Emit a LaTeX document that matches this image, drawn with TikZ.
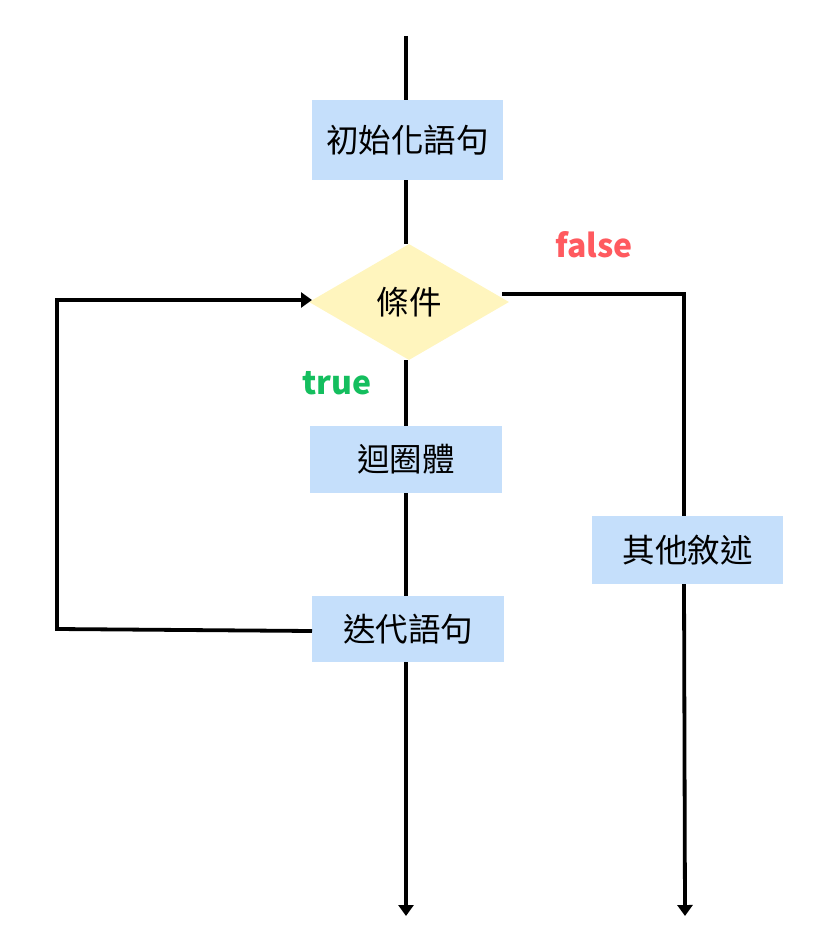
\documentclass[tikz,border=0pt]{standalone}
\usepackage{fontspec}
\newfontfamily\cjk{Noto Sans CJK TC}
\newfontfamily\lat{Noto Sans CJK TC}
\usetikzlibrary{shapes.geometric,arrows.meta}
\definecolor{boxblue}{HTML}{C5DFFB}
\definecolor{condyellow}{HTML}{FFF5BE}
\definecolor{falsered}{HTML}{FF5A5F}
\definecolor{truegreen}{HTML}{14BE5E}
\tikzset{
  stmt/.style={rectangle, fill=boxblue, inner sep=0pt, font=\cjk\fontsize{32.5}{32.5}\selectfont},
  cond/.style={diamond, fill=condyellow, inner sep=0pt, aspect=1.72, minimum width=200pt, minimum height=116pt, font=\cjk\fontsize{32.5}{32.5}\selectfont},
  flow/.style={line width=3.8pt},
  flowarrow/.style={line width=3.8pt, -{Triangle[width=15pt,length=11pt]}},
  lbl/.style={font=\lat\bfseries\fontsize{32}{32}\selectfont}
}
\begin{document}
\begin{tikzpicture}[x=1pt,y=-1pt]
\useasboundingbox (0,0) rectangle (826,936);
\node[stmt, minimum width=191pt, minimum height=80pt] (init) at (407.5,140) {初始化語句};
\node[cond] (cond) at (409,302) {條件};
\node[stmt, minimum width=192pt, minimum height=67pt] (body) at (406,459.5) {迴圈體};
\node[stmt, minimum width=192pt, minimum height=66pt] (iter) at (408,629) {迭代語句};
\node[stmt, minimum width=191pt, minimum height=68pt] (other) at (687.5,550) {其他敘述};
\node[lbl, text=falsered] (f) at (594,245) {false};
\node[lbl, text=truegreen] (t) at (337,383) {true};
\coordinate (top) at (406,36);
\coordinate (bot) at (406,916);
\coordinate (fstart) at (502,294);
\coordinate (fcorner) at (684,294);
\coordinate (rbot) at (685,916);
\coordinate (iterw) at (312,631);
\coordinate (lbot) at (57,629);
\coordinate (ltop) at (57,300);
\coordinate (ltip) at (312,300);
\draw[flow] (top) -- (init.north -| top);
\draw[flow] (init.south -| top) -- (cond.north -| top);
\draw[flow] (cond.south -| top) -- (body.north -| top);
\draw[flow] (body.south -| top) -- (iter.north -| top);
\draw[flowarrow] (iter.south -| top) -- (bot);
\draw[flow] (fstart) -- (fcorner) -- (other.north -| fcorner);
\draw[flowarrow] (other.south -| fcorner) -- (rbot);
\draw[flowarrow] (iterw) -- (lbot) -- (ltop) -- (ltip);
\end{tikzpicture}
\end{document}
